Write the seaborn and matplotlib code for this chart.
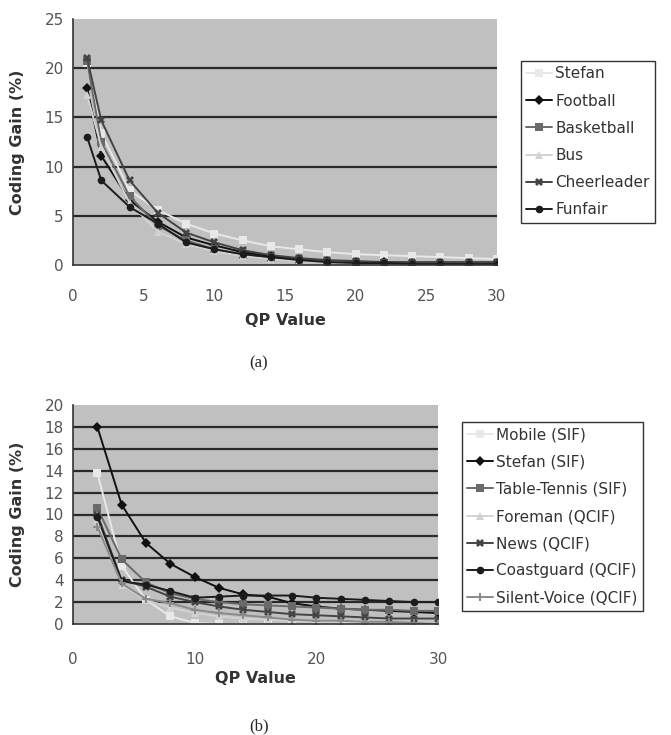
import matplotlib
matplotlib.use('Agg')
import numpy as np
import pandas as pd
import matplotlib.pyplot as plt
import seaborn as sns

# ---- data (a) ----
qp_a = [1, 2, 4, 6, 8, 10, 12, 14, 16, 18, 20, 22, 24, 26, 28, 30]
stefan_a = [20.5, 13.4, 7.6, 5.6, 4.2, 3.2, 2.5, 1.9, 1.6, 1.3, 1.1, 1.0, 0.9, 0.8, 0.7, 0.6]
football_a = [18.0, 11.1, 6.6, 4.4, 2.8, 2.0, 1.3, 0.9, 0.6, 0.4, 0.3, 0.3, 0.2, 0.2, 0.2, 0.2]
basketball_a = [20.7, 12.5, 7.0, 4.0, 2.5, 1.6, 1.0, 0.7, 0.5, 0.3, 0.2, 0.2, 0.1, 0.1, 0.1, 0.1]
bus_a = [17.3, 12.0, 6.3, 3.4, 2.1, 1.4, 0.9, 0.6, 0.4, 0.3, 0.2, 0.2, 0.1, 0.1, 0.1, 0.1]
cheerleader_a = [21.0, 14.7, 8.6, 5.3, 3.3, 2.3, 1.5, 1.0, 0.7, 0.5, 0.4, 0.3, 0.3, 0.3, 0.3, 0.3]
funfair_a = [13.0, 8.6, 5.9, 4.2, 2.3, 1.6, 1.1, 0.8, 0.5, 0.3, 0.2, 0.2, 0.1, 0.1, 0.1, 0.1]
names_a = ['Stefan', 'Football', 'Basketball', 'Bus', 'Cheerleader', 'Funfair']

# ---- data (b) ----
qp_b = [2, 4, 6, 8, 10, 12, 14, 16, 18, 20, 22, 24, 26, 28, 30]
mobile_b = [13.8, 5.3, 2.2, 0.7, 0.1, 0.0, 0.0, 0.0, 0.0, 0.0, 0.0, 0.0, 0.0, 0.0, 0.0]
stefan_b = [18.0, 10.9, 7.4, 5.5, 4.3, 3.3, 2.7, 2.5, 1.9, 1.6, 1.4, 1.3, 1.2, 1.1, 1.0]
tabletennis_b = [10.6, 5.9, 3.8, 2.8, 2.3, 2.0, 1.8, 1.7, 1.6, 1.5, 1.4, 1.3, 1.3, 1.2, 1.2]
foreman_b = [9.5, 3.6, 2.2, 1.5, 1.0, 0.7, 0.5, 0.4, 0.3, 0.2, 0.2, 0.1, 0.1, 0.1, 0.1]
news_b = [10.0, 4.0, 3.4, 2.5, 2.0, 1.6, 1.3, 1.1, 0.9, 0.8, 0.7, 0.6, 0.5, 0.5, 0.5]
coastguard_b = [9.8, 3.9, 3.6, 3.0, 2.4, 2.5, 2.6, 2.6, 2.6, 2.4, 2.3, 2.2, 2.1, 2.0, 2.0]
silentvoice_b = [8.9, 3.7, 2.3, 1.9, 1.3, 1.0, 0.8, 0.6, 0.4, 0.3, 0.3, 0.2, 0.2, 0.1, 0.0]
names_b = ['Mobile (SIF)', 'Stefan (SIF)', 'Table-Tennis (SIF)', 'Foreman (QCIF)',
           'News (QCIF)', 'Coastguard (QCIF)', 'Silent-Voice (QCIF)']

df_a = pd.DataFrame({'QP': qp_a * 6,
                     'Gain': stefan_a + football_a + basketball_a + bus_a + cheerleader_a + funfair_a,
                     'Sequence': np.repeat(names_a, len(qp_a))})
df_b = pd.DataFrame({'QP': qp_b * 7,
                     'Gain': mobile_b + stefan_b + tabletennis_b + foreman_b + news_b + coastguard_b + silentvoice_b,
                     'Sequence': np.repeat(names_b, len(qp_b))})

colors_a = ['#e8e8e8', '#111111', '#6a6a6a', '#d2d2d2', '#444444', '#1c1c1c']
markers_a = ['s', 'D', 's', '^', 'X', 'o']
colors_b = ['#e8e8e8', '#111111', '#6a6a6a', '#d2d2d2', '#444444', '#1c1c1c', '#8a8a8a']
markers_b = ['s', 'D', 's', '^', 'X', 'o', 'P']

sns.set_style('white')
plt.rcParams['font.family'] = ['DejaVu Sans']

fig = plt.figure(figsize=(6.71, 7.35), dpi=100)
ax1 = fig.add_axes([73 / 671, 1 - 265 / 735, 424 / 671, 246 / 735])
ax2 = fig.add_axes([73 / 671, 1 - 624 / 735, 365 / 671, 219 / 735])


def style_axis(ax, yticks, xticks, ylim, xpad, xlab_y, ylab_x):
    ax.set_facecolor('#c0c0c0')
    ax.set_xlim(0, 30)
    ax.set_ylim(*ylim)
    ax.set_yticks(yticks)
    ax.set_xticks(xticks)
    ax.grid(False)
    for v in yticks[1:-1]:
        ax.axhline(v, color='#2a2a2a', lw=1.6, zorder=0.5)
    for s in ['top', 'right']:
        ax.spines[s].set_visible(False)
    for s in ['left', 'bottom']:
        ax.spines[s].set_color('#333333')
        ax.spines[s].set_linewidth(1.2)
    ax.tick_params(axis='y', direction='inout', length=7, width=1, colors='#333333',
                   labelcolor='#555555', labelsize=11, pad=3)
    ax.tick_params(axis='x', direction='out', length=4, width=1, colors='#333333',
                   labelcolor='#555555', labelsize=11, pad=xpad)
    ax.set_xlabel('QP Value', fontsize=11.5, fontweight='bold', color='#333333')
    ax.set_ylabel('Coding Gain (%)', fontsize=11.5, fontweight='bold', color='#333333')
    ax.xaxis.set_label_coords(0.5, xlab_y)
    ax.yaxis.set_label_coords(ylab_x, 0.5)


sns.lineplot(data=df_a, x='QP', y='Gain', hue='Sequence', style='Sequence',
             hue_order=names_a, style_order=names_a, palette=colors_a,
             markers=markers_a, dashes=False, markersize=5.5, markeredgewidth=0,
             linewidth=1.4, ax=ax1)
sns.lineplot(data=df_b, x='QP', y='Gain', hue='Sequence', style='Sequence',
             hue_order=names_b, style_order=names_b, palette=colors_b,
             markers=markers_b, dashes=False, markersize=5.5, markeredgewidth=0,
             linewidth=1.4, ax=ax2)

style_axis(ax1, [0, 5, 10, 15, 20, 25], [0, 5, 10, 15, 20, 25, 30], (0, 25), 13, -0.195, -0.113)
style_axis(ax2, list(range(0, 21, 2)), [0, 10, 20, 30], (0, 20), 16, -0.215, -0.132)

for ax, anchor in [(ax1, (521 / 671, 1 - 61 / 735)), (ax2, (462 / 671, 1 - 422 / 735))]:
    h, l = ax.get_legend_handles_labels()
    ax.legend(h, l, loc='upper left', bbox_to_anchor=anchor, bbox_transform=fig.transFigure,
              frameon=True, fancybox=False, edgecolor='#333333', framealpha=1,
              fontsize=11, handlelength=1.7, handletextpad=0.2, labelspacing=0.8,
              borderpad=0.35, borderaxespad=0)
    for t in ax.get_legend().get_texts():
        t.set_color('#333333')

fig.text(259 / 671, 1 - 363 / 735, '(a)', family='Liberation Serif', fontsize=12,
         ha='center', va='center')
fig.text(259 / 671, 1 - 726 / 735, '(b)', family='Liberation Serif', fontsize=12,
         ha='center', va='center')

fig.savefig('out.png', dpi=100, facecolor='white')
